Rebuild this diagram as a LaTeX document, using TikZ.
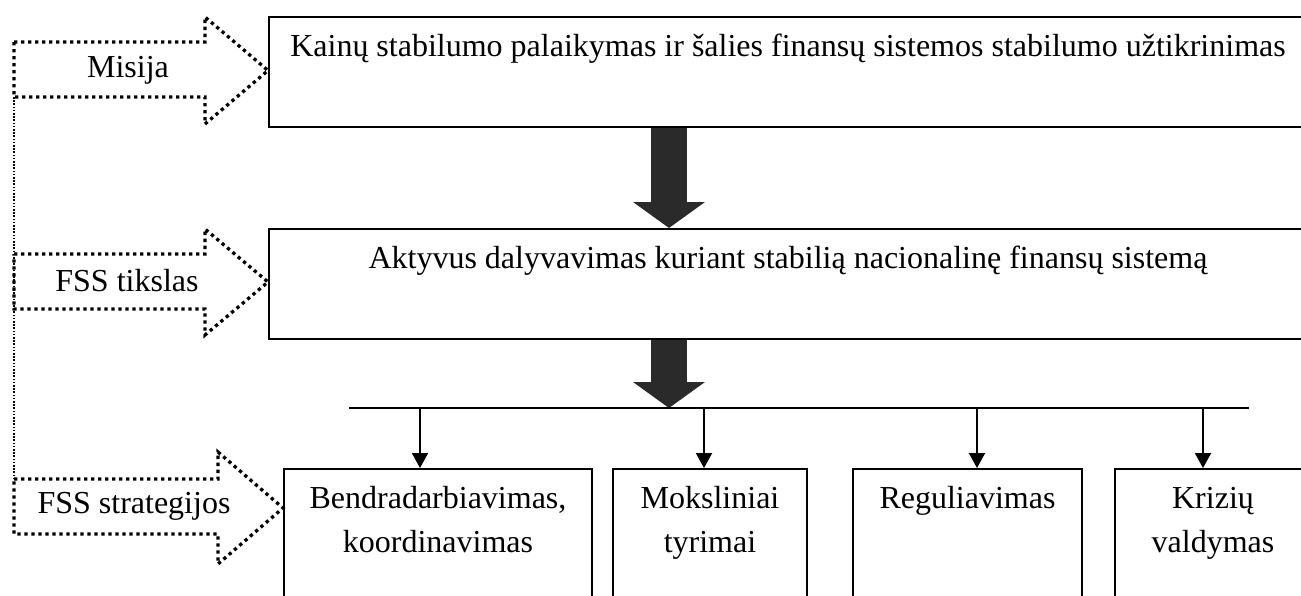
\documentclass[tikz,border=0pt]{standalone}
\usepackage{fontspec}
\setmainfont{Liberation Serif}
\usetikzlibrary{arrows.meta}
\definecolor{flowgray}{HTML}{2A2A2A}

\begin{document}
\begin{tikzpicture}[
    x=0.5pt, y=-0.5pt,
    font=\fontsize{16pt}{22pt}\selectfont,
    box/.style={draw, line width=1pt, anchor=north west, inner sep=0pt,
                align=flush center, text height=19.5pt},
    flow/.style={line width=18pt, draw=flowgray,
                 -{Triangle[width=36pt, length=13pt, line width=0pt]}},
    branch/.style={line width=1pt, -{Triangle[width=8pt, length=7.5pt]}},
    hollow/.style={line width=1.65pt, dash pattern=on 1.65pt off 1.85pt},
    guide/.style={line width=0.8pt, dash pattern=on 0.8pt off 0.8pt}
]
\clip (0,0) rectangle (1301,595);

% Boxes
\node[box, text width=519pt, text depth=35.5pt] (kain) at (268,16)
    {Kainų stabilumo palaikymas ir šalies finansų sistemos stabilumo užtikrinimas};
\node[box, text width=519pt, text depth=35.5pt] (akty) at (268,228)
    {Aktyvus dalyvavimas kuriant stabilią nacionalinę finansų sistemą};
\node[box, text width=154pt, text depth=55.5pt] (bend) at (283,468)
    {Bendradarbiavimas,\\koordinavimas};
\node[box, text width=97pt, text depth=55.5pt] (moks) at (612,468)
    {Moksliniai\\tyrimai};
\node[box, text width=114.5pt, text depth=55.5pt] (regu) at (852,468)
    {Reguliavimas};
\node[box, text width=98pt, text depth=55.5pt] (kriz) at (1114,468)
    {Krizių\\valdymas};

% Big arrows
\coordinate (ax) at (669,0);
\coordinate (busL) at (349,408);
\coordinate (busR) at (1249,408);
\draw[flow] (kain.south -| ax) -- (akty.north -| ax);
\draw[flow] (akty.south -| ax) -- (ax |- busL);

% Branches
\draw[line width=1pt] (busL) -- (busR);
\foreach \x/\n in {420/bend, 704/moks, 977/regu, 1203/kriz}{
    \coordinate (t\n) at (\x,408);
    \draw[branch] (t\n) -- (t\n |- \n.north);
}

% Left hollow arrows
\draw[hollow] (14,42) -- (205,42) -- (205,17) -- (268,70.5) -- (205,124)
    -- (205,97) coordinate (misBR) -- (14,97) coordinate (misBL) -- cycle;
\node (misija) at (128,70) {Misija};

\draw[hollow] (14,254) -- (205,254) -- (205,229) -- (268,282) -- (205,335)
    -- (205,309) -- (14,309) -- cycle;
\node (tikslas) at (127,281) {FSS tikslas};

\draw[hollow] (14,479) coordinate (strTL) -- (218,479) -- (218,452) -- (283,508)
    -- (218,564) -- (218,534) -- (14,534) -- cycle;
\node (strat) at (134,506) {FSS strategijos};

% Guide line
\draw[guide] (misBL) -- (strTL);

\end{tikzpicture}
\end{document}
